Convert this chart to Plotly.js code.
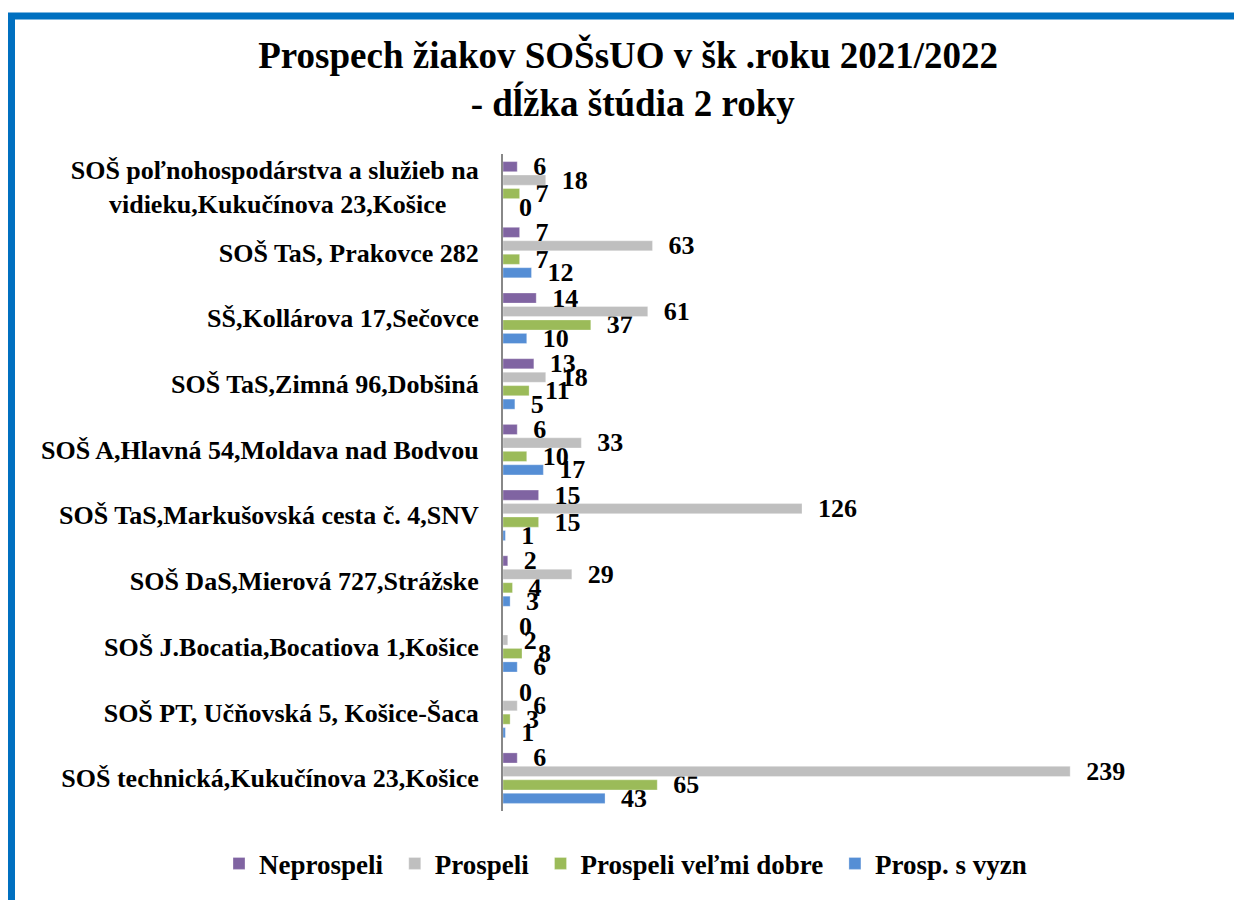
<!DOCTYPE html>
<html>
<head>
<meta charset="utf-8">
<script src="https://cdn.plot.ly/plotly-3.0.1.min.js"></script>
<style>
  html, body { margin: 0; padding: 0; background: #fff; }
  #chart { width: 1234px; height: 900px; }
</style>
</head>
<body>
<div id="chart"></div>
<script>
// Categories listed bottom-to-top (Plotly category axis draws first at bottom)
const categories = [
  "SOŠ technická,Kukučínova 23,Košice",
  "SOŠ PT, Učňovská 5, Košice-Šaca",
  "SOŠ J.Bocatia,Bocatiova 1,Košice",
  "SOŠ DaS,Mierová 727,Strážske",
  "SOŠ TaS,Markušovská cesta č. 4,SNV",
  "SOŠ A,Hlavná 54,Moldava nad Bodvou",
  "SOŠ TaS,Zimná 96,Dobšiná",
  "SŠ,Kollárova 17,Sečovce",
  "SOŠ TaS, Prakovce 282",
  "SOŠ poľnohospodárstva a služieb na<br>vidieku,Kukučínova 23,Košice\u00a0\u00a0\u00a0\u00a0\u00a0"
];
const neprospeli       = [6, 0, 0, 2, 15, 6, 13, 14, 7, 6];
const prospeli         = [239, 6, 2, 29, 126, 33, 18, 61, 63, 18];
const prospeliVelmi    = [65, 3, 8, 4, 15, 10, 11, 37, 7, 7];
const prospSVyzn       = [43, 1, 6, 3, 1, 17, 5, 10, 12, 0];

const seriesNames = ["Neprospeli", "Prospeli", "Prospeli veľmi dobre", "Prosp. s vyzn"];
const seriesColors = ["#8064A2", "#BFBFBF", "#9BBB59", "#558ED5"];
const seriesData = [neprospeli, prospeli, prospeliVelmi, prospSVyzn];

const FONT = "Liberation Serif, Times New Roman, serif";

// Traces in reverse so that Neprospeli sits at the top of each group
const traces = [];
for (let i = seriesData.length - 1; i >= 0; i--) {
  traces.push({
    type: "bar",
    orientation: "h",
    name: seriesNames[i] + (i < seriesData.length - 1 ? "\u00a0" : ""),
    y: categories,
    x: seriesData[i],
    marker: { color: seriesColors[i], line: { color: "rgba(255,255,255,0.6)", width: 0.5 } },
    text: seriesData[i].map(String),
    texttemplate: "\u00a0\u00a0%{text}",
    textposition: "outside",
    constraintext: "none",
    cliponaxis: false,
    textfont: { family: FONT, size: 26, color: "#000", weight: "bold" },
    hoverinfo: "x+name"
  });
}

const W = 1234, H = 900;
const m = { l: 503, r: 114, t: 154, b: 87 };
const pw = W - m.l - m.r, ph = H - m.t - m.b;
const px = v => (v - m.l) / pw;
const py = v => 1 - (v - m.t) / ph;

const layout = {
  width: W, height: H,
  margin: m,
  paper_bgcolor: "#fff",
  plot_bgcolor: "#fff",
  font: { family: FONT, color: "#000" },
  title: {
    text: "Prospech žiakov SOŠsUO v šk .roku 2021/2022<br> - dĺžka štúdia 2 roky",
    font: { family: FONT, size: 37, color: "#000", weight: "bold" },
    xref: "container", x: 0.509, xanchor: "center",
    yref: "container", y: 0.925, yanchor: "top"
  },
  barmode: "group",
  bargap: 0.18,
  bargroupgap: 0.25,
  xaxis: {
    range: [0, 260],
    showgrid: false, zeroline: false, showline: false,
    showticklabels: false, ticks: "", fixedrange: true
  },
  yaxis: {
    type: "category",
    showgrid: false, zeroline: false,
    showline: true, linecolor: "#888", linewidth: 2,
    ticks: "", ticklabelstandoff: 17,
    tickfont: { family: FONT, size: 26, color: "#000", weight: "bold" },
    fixedrange: true
  },
  showlegend: true,
  legend: {
    orientation: "h",
    traceorder: "reversed",
    xref: "paper", x: px(219), xanchor: "left",
    yref: "paper", y: py(866), yanchor: "middle",
    font: { family: FONT, size: 27, color: "#000", weight: "bold" },
    itemwidth: 30
  },
  shapes: [{
    type: "rect", xref: "paper", yref: "paper",
    x0: px(11.5), x1: px(1250), y0: py(15.5), y1: py(920),
    line: { color: "#0070C0", width: 7 }, fillcolor: "rgba(0,0,0,0)",
    layer: "above"
  }]
};

Plotly.newPlot("chart", traces, layout, { displayModeBar: false, staticPlot: true });
</script>
</body>
</html>
